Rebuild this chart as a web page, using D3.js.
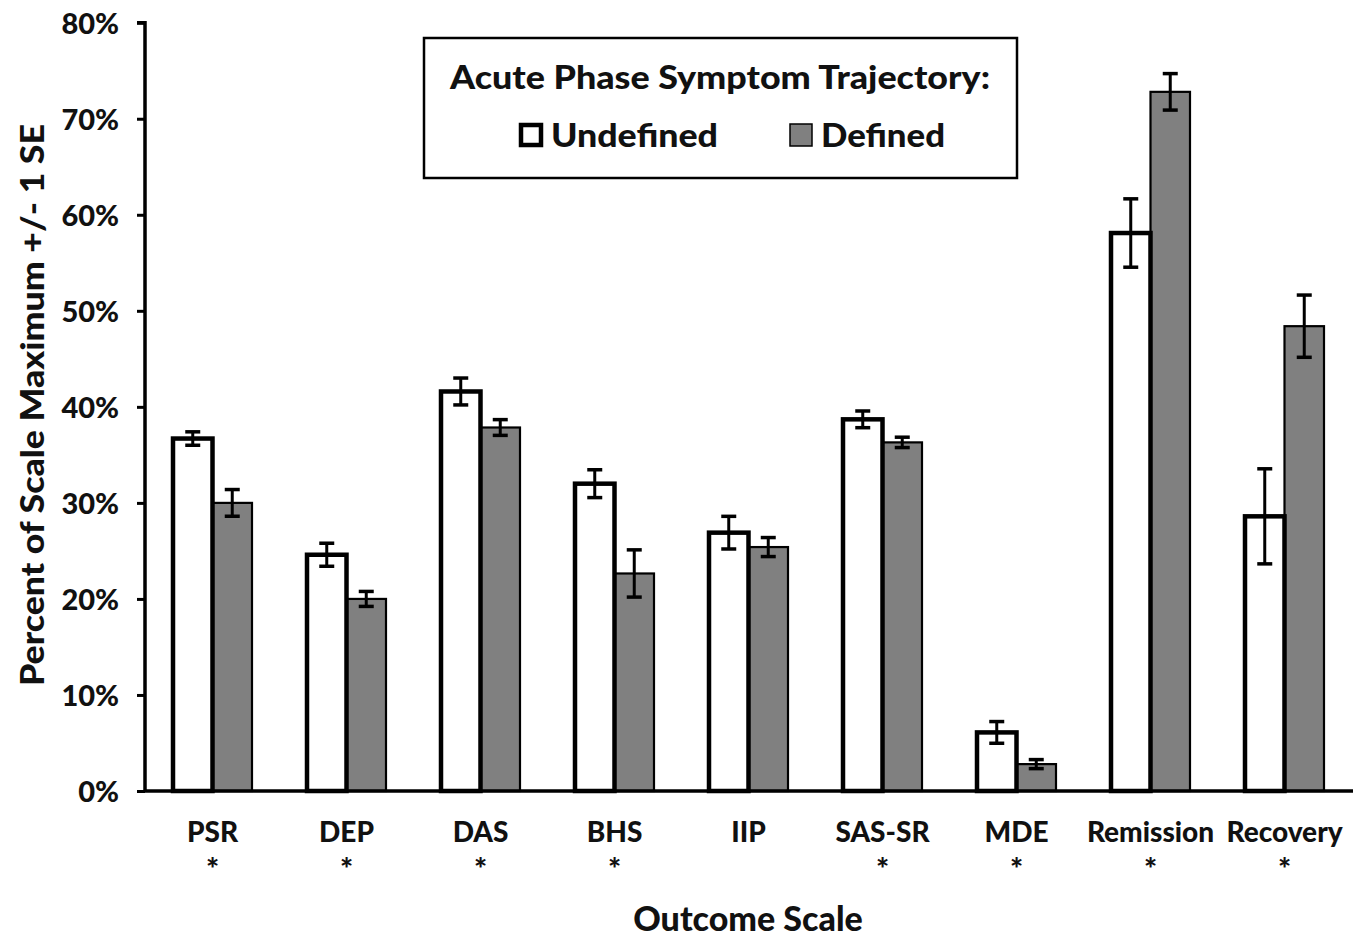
<!DOCTYPE html>
<html><head><meta charset="utf-8">
<script src="https://cdn.jsdelivr.net/npm/d3@7"></script>
<style>body{margin:0;background:#fff}text{font-family:Lato,"Open Sans",sans-serif;font-weight:900;fill:#111}</style>
</head><body><svg id="c" width="1365" height="938"></svg>
<script>
const categories = ["PSR","DEP","DAS","BHS","IIP","SAS-SR","MDE","Remission","Recovery"];
const significant = [true,true,true,true,false,true,true,true,true];
const undefinedVals = [36.7,24.6,41.6,32.0,26.9,38.7,6.1,58.1,28.6];
const undefinedSE  = [0.7,1.2,1.4,1.45,1.7,0.87,1.13,3.56,4.95];
const definedVals = [30.0,20.0,37.85,22.65,25.4,36.3,2.8,72.8,48.4];
const definedSE  = [1.39,0.78,0.82,2.46,0.99,0.54,0.47,1.9,3.24];
const yTicks = [0,10,20,30,40,50,60,70,80];
const seriesNames = ["Undefined","Defined"];

const svg = d3.select("#c");
const x = d3.scaleBand().domain(categories).range([145.5,1351.5]).paddingInner(0).paddingOuter(0);
const y = d3.scaleLinear().domain([0,80]).range([791,22.7]);
const barW = 39.5;

function fit(sel,w){ sel.each(function(){ const l=this.getComputedTextLength(); if(l>0) this.setAttribute("textLength",w), this.setAttribute("lengthAdjust","spacingAndGlyphs"); }); }

// y axis
const yAxis = svg.append("g").attr("transform","translate(145,0)")
  .call(d3.axisLeft(y).tickValues(yTicks).tickFormat(d=>d+"%").tickSize(8).tickPadding(18));
yAxis.select(".domain").attr("stroke","#000").attr("stroke-width",3.5).attr("d","M-8,"+y(80)+"H0V"+y(0));
yAxis.selectAll(".tick line").attr("stroke","#000").attr("stroke-width",3);
yAxis.selectAll(".tick text").style("font-size","29px").style("font-family","Lato").style("font-weight","900").attr("fill","#111").attr("dy","0.36em");

const data = categories.map((c,i)=>({c,i,u:undefinedVals[i],us:undefinedSE[i],d:definedVals[i],ds:definedSE[i]}));
const cx = d => x(d.c)+x.bandwidth()/2;

svg.selectAll(".bd").data(data).enter().append("rect")
  .attr("x",d=>cx(d)).attr("width",barW)
  .attr("y",d=>y(d.d)).attr("height",d=>y(0)-y(d.d))
  .attr("fill","#808080").attr("stroke","#000").attr("stroke-width",2.2);
svg.selectAll(".bu").data(data).enter().append("rect")
  .attr("x",d=>cx(d)-barW).attr("width",barW)
  .attr("y",d=>y(d.u)).attr("height",d=>y(0)-y(d.u))
  .attr("fill","#fff").attr("stroke","#000").attr("stroke-width",4.5);

svg.append("line").attr("x1",145).attr("x2",1353).attr("y1",y(0)).attr("y2",y(0)).attr("stroke","#000").attr("stroke-width",3.5);

function err(cls,getX,getV,getS){
  const g = svg.selectAll("."+cls).data(data).enter().append("g");
  g.append("line").attr("x1",getX).attr("x2",getX).attr("y1",d=>y(getV(d)+getS(d))).attr("y2",d=>y(getV(d)-getS(d))).attr("stroke","#000").attr("stroke-width",3);
  [1,-1].forEach(s=>g.append("line").attr("x1",d=>getX(d)-7.5).attr("x2",d=>getX(d)+7.5)
    .attr("y1",d=>y(getV(d)+s*getS(d))).attr("y2",d=>y(getV(d)+s*getS(d))).attr("stroke","#000").attr("stroke-width",3.5));
}
err("eu",d=>cx(d)-barW/2,d=>d.u,d=>d.us);
err("ed",d=>cx(d)+barW/2,d=>d.d,d=>d.ds);

svg.selectAll(".cl").data(data).enter().append("text")
  .attr("x",cx).attr("y",842).attr("text-anchor","middle").style("font-size","28px").text(d=>d.c);
svg.selectAll(".st").data(data.filter(d=>significant[d.i])).enter().append("text")
  .attr("x",cx).attr("y",880).attr("text-anchor","middle").style("font-size","31px").text("*");

svg.append("text").attr("x",748).attr("y",931).attr("text-anchor","middle").style("font-size","34px").text("Outcome Scale");
svg.append("text").attr("transform","translate(44,405) rotate(-90)").attr("text-anchor","middle").style("font-size","32px").text("Percent of Scale Maximum +/- 1 SE").call(fit,562);

svg.append("rect").attr("x",424).attr("y",38).attr("width",593).attr("height",140).attr("fill","#fff").attr("stroke","#000").attr("stroke-width",2.5);
svg.append("text").attr("x",720).attr("y",89).attr("text-anchor","middle").style("font-size","32px").text("Acute Phase Symptom Trajectory:").call(fit,540);
const legX = [519,789];
const legW = [167,124];
seriesNames.forEach((n,i)=>{
  svg.append("rect").attr("x",legX[i]+ (i?1:2)).attr("y",i?124:125).attr("width",i?22:20).attr("height",i?22:20)
    .attr("fill",i?"#808080":"#fff").attr("stroke","#000").attr("stroke-width",i?1.5:4.5);
  svg.append("text").attr("x",legX[i]+32).attr("y",147).style("font-size","33px").text(n).call(fit,legW[i]);
});
</script></body></html>
